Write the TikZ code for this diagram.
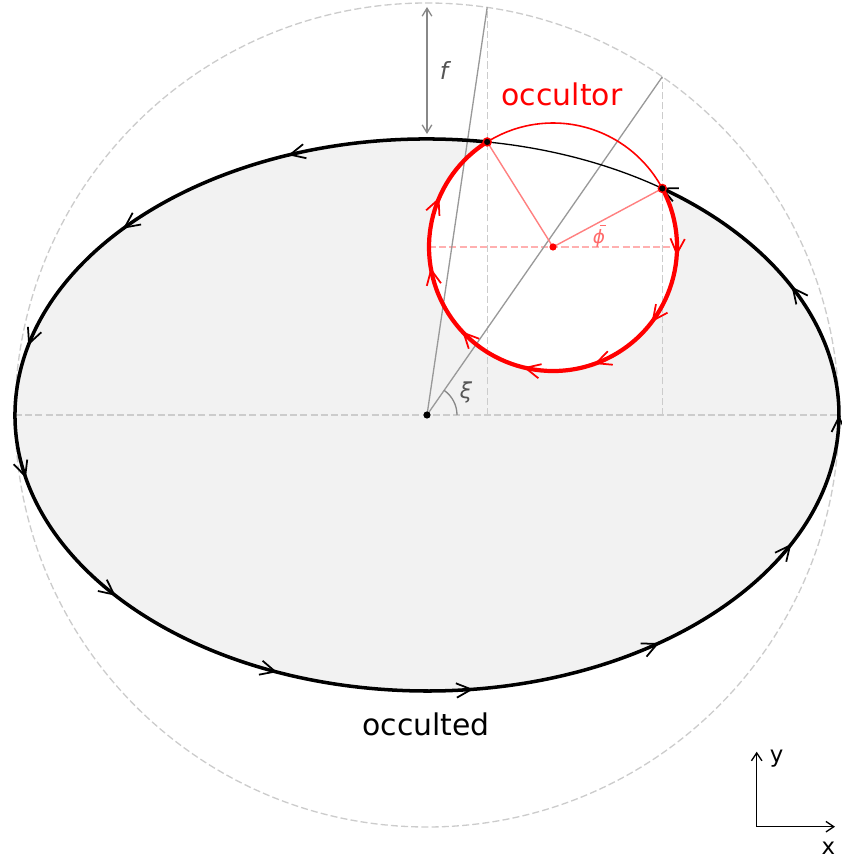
\documentclass[tikz,border=0pt]{standalone}
\usepackage{fontspec}
\setmainfont{DejaVu Sans}
\usetikzlibrary{arrows.meta}
\definecolor{ellfill}{HTML}{F2F2F2}
\definecolor{guide}{HTML}{CCCCCC}
\definecolor{midgray}{HTML}{999999}
\definecolor{arrgray}{HTML}{888888}
\definecolor{labgray}{HTML}{555555}
\definecolor{lightred}{HTML}{FF8080}
\definecolor{palered}{HTML}{FFB0B0}
\definecolor{phired}{HTML}{FF6A6A}
\begin{document}
\begin{tikzpicture}[x=0.02cm,y=0.02cm,
  guideline/.style={draw=guide, line width=0.75pt, dash pattern=on 4pt off 1.8pt},
  grayline/.style={draw=midgray, line width=0.75pt},
  redguide/.style={draw=palered, line width=0.75pt, dash pattern=on 4pt off 1.8pt},
  redspoke/.style={draw=lightred, line width=0.8pt},
  ellthick/.style={draw=black, line width=2pt},
  ellthin/.style={draw=black, line width=0.75pt},
  redthick/.style={draw=red, line width=2.4pt},
  redthin/.style={draw=red, line width=0.9pt},
  ellchev/.style={draw=black, line width=1pt, line join=miter},
  redchev/.style={draw=red, line width=1pt, line join=miter},
  farrow/.style={draw=arrgray, line width=0.75pt, {Straight Barb[length=4.5pt,width=5.5pt]}-{Straight Barb[length=4.5pt,width=5.5pt]}},
  axarrow/.style={draw=black, line width=0.75pt, -{Straight Barb[length=4.5pt,width=6pt]}},
  bigtext/.style={font=\fontsize{17}{20}\selectfont, inner sep=0pt},
  smalltext/.style={inner sep=0pt}
]
\useasboundingbox (-427,-446) rectangle (414,415);

% key points
\coordinate (O) at (0,0);
\coordinate (C) at (126,168);
\coordinate (P1) at (60.18,273.04);
\coordinate (P2) at (235.31,226.55);
\coordinate (Q1) at (60.18,407.6);
\coordinate (Q2) at (235.31,338.2);
\coordinate (B1) at (60.18,0);
\coordinate (B2) at (235.31,0);

% fills
\fill[ellfill] (O) ellipse [x radius=412, y radius=276];
\fill[white] (C) circle [radius=124];

% guides
\draw[guideline] (O) circle [radius=412];
\draw[guideline] (-412,0) -- (412,0);
\draw[guideline] (B1) -- (Q1);
\draw[guideline] (B2) -- (Q2);
\draw[redguide] (2,168) -- (250,168);

% gray construction lines
\draw[grayline] (O) -- (Q1);
\draw[grayline] (O) -- (Q2);
\draw[draw=arrgray, line width=0.75pt] (30,0) arc [start angle=0, end angle=55.17, radius=30];
\draw[farrow] (0,408) -- (0,281);

% red spokes
\draw[redspoke] (C) -- (P1);
\draw[redspoke] (C) -- (P2);

% ellipse outline
\draw[ellthin] (P2) arc [start angle=55.17, end angle=81.6, x radius=412, y radius=276];
\draw[ellthick] (P1) arc [start angle=81.6, end angle=415.17, x radius=412, y radius=276];
\foreach \k in {1,...,12}{
  \pgfmathsetmacro\ea{81.6+\k*27.7975}
  \pgfmathsetmacro\epx{412*cos(\ea)}
  \pgfmathsetmacro\epy{276*sin(\ea)}
  \pgfmathsetmacro\edx{-412*sin(\ea)}
  \pgfmathsetmacro\edy{276*cos(\ea)}
  \pgfmathsetmacro\enn{veclen(\edx,\edy)}
  \pgfmathsetmacro\eux{\edx/\enn}
  \pgfmathsetmacro\euy{\edy/\enn}
  \draw[ellchev] ({\epx-15*(\eux)-7.2*(\euy)},{\epy-15*(\euy)+7.2*(\eux)}) -- (\epx,\epy) -- ({\epx-15*(\eux)+7.2*(\euy)},{\epy-15*(\euy)-7.2*(\eux)});
}

% occultor outline
\draw[redthin] (P2) arc [start angle=28.18, end angle=122.07, radius=124];
\draw[redthick] (P2) arc [start angle=28.18, end angle=-237.93, radius=124];
\foreach \k in {1,...,7}{
  \pgfmathsetmacro\ra{30.18-\k*33.264}
  \pgfmathsetmacro\rpx{126+124*cos(\ra)}
  \pgfmathsetmacro\rpy{168+124*sin(\ra)}
  \pgfmathsetmacro\rux{sin(\ra)}
  \pgfmathsetmacro\ruy{-cos(\ra)}
  \draw[redchev] ({\rpx-15*(\rux)-7.2*(\ruy)},{\rpy-15*(\ruy)+7.2*(\rux)}) -- (\rpx,\rpy) -- ({\rpx-15*(\rux)+7.2*(\ruy)},{\rpy-15*(\ruy)-7.2*(\rux)});
}

% dots
\fill[black] (O) circle [radius=3.6];
\fill[red] (C) circle [radius=3.6];
\filldraw[fill=black, draw=red, line width=0.8pt] (P1) circle [radius=4];
\filldraw[fill=black, draw=red, line width=0.8pt] (P2) circle [radius=4];

% labels
\node[bigtext, text=red, anchor=base] (occultor) at (135,309) {occultor};
\node[bigtext, text=black, anchor=base] (occulted) at (-1,-320) {occulted};
\node[smalltext, text=labgray, anchor=base, font=\fontsize{13.5}{16}\selectfont\itshape] (flab) at (17,335) {f};
\node[smalltext, text=labgray, font=\fontsize{12.5}{15}\selectfont\itshape] (xilab) at (39,22.5) {ξ};
\node[smalltext, text=phired, font=\fontsize{10.5}{13}\selectfont\itshape] (philab) at (172,177) {ϕ};
\draw[draw=phired, line width=0.8pt] (173,189.5) -- (178.6,189.5);

% axes
\coordinate (ax0) at (329.7,-411.7);
\coordinate (axy) at (329.7,-336.7);
\coordinate (axx) at (408,-411.7);
\draw[axarrow] (ax0) -- (axy);
\draw[axarrow] (ax0) -- (axx);
\node[smalltext, font=\fontsize{13}{15}\selectfont] (ylab) at (349.5,-344) {y};
\node[smalltext, font=\fontsize{13}{15}\selectfont] (xlab) at (401.3,-433) {x};
\end{tikzpicture}
\end{document}
